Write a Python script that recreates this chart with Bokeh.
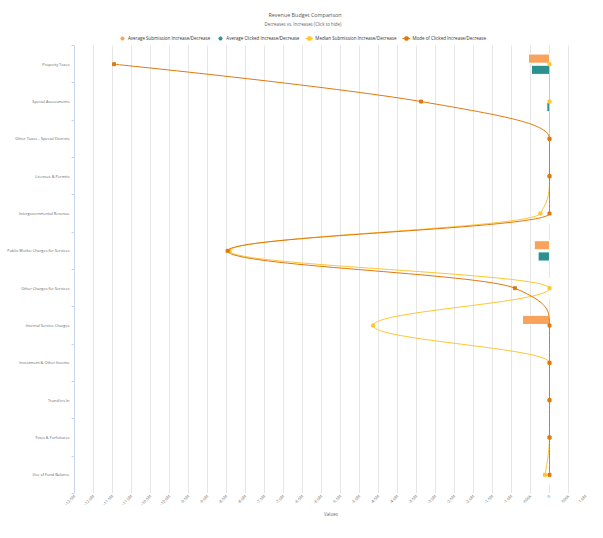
import math
from bokeh.plotting import figure
from bokeh.models import (Range1d, FixedTicker, Title, Legend, LegendItem,
                          ColumnDataSource, BoxAnnotation)
from bokeh.embed import file_html
from bokeh.resources import INLINE

categories = ["Property Taxes", "Special Assessments", "Other Taxes \u2013 Special Districts",
              "Licenses & Permits", "Intergovernmental Revenue",
              "Public Works: Charges for Services", "Other Charges for Services",
              "Internal Service Charges", "Investment & Other Income", "Transfers In",
              "Fines & Forfeitures", "Use of Fund Balance"]
avg_submission = [-553000, 0, 0, 0, 0, -400000, 0, -710000, 0, 0, 0, 0]
avg_clicked = [-476000, -70000, 0, 0, 0, -300000, -10000, 0, 0, 0, 0, 0]
median_submission = [0, 0, 0, 0, -240000, -8420000, 0, -4640000, 0, 0, 0, -120000]
mode_clicked = [-11460000, -3380000, 0, 0, 0, -8470000, -910000, 0, 0, 0, 0, 0]

x_ticks = [-12500000 + 500000 * i for i in range(28)]
def fmt(v):
    if v == 0:
        return "0"
    if abs(v) >= 1000000:
        return "%.1fM" % (v / 1e6)
    return "%dk" % (v / 1000)
x_tick_labels = {t: fmt(t) for t in x_ticks}

C_SUB = "#f7a35c"
C_CLK = "#2b908f"
C_MED = "#ffc533"
C_MODE = "#e0780e"
FONT = "Open Sans"

def spline(vals, smoothing=1.5):
    xs = list(range(len(vals)))
    ys = list(vals)
    n = len(xs)
    left = [None] * n
    right = [None] * n
    for i in range(n):
        if 0 < i < n - 1:
            px, py = xs[i], ys[i]
            lx, ly = xs[i - 1], ys[i - 1]
            nx, ny = xs[i + 1], ys[i + 1]
            d = smoothing + 1
            lcx = (smoothing * px + lx) / d
            lcy = (smoothing * py + ly) / d
            rcx = (smoothing * px + nx) / d
            rcy = (smoothing * py + ny) / d
            if rcx != lcx:
                corr = ((rcy - lcy) * (rcx - px)) / (rcx - lcx) + py - rcy
                lcy += corr
                rcy += corr
            if lcy > ly and lcy > py:
                lcy = max(ly, py); rcy = 2 * py - lcy
            elif lcy < ly and lcy < py:
                lcy = min(ly, py); rcy = 2 * py - lcy
            if rcy > ny and rcy > py:
                rcy = max(ny, py); lcy = 2 * py - rcy
            elif rcy < ny and rcy < py:
                rcy = min(ny, py); lcy = 2 * py - rcy
            left[i] = (lcx, lcy)
            right[i] = (rcx, rcy)
        else:
            left[i] = right[i] = (xs[i], ys[i])
    d = dict(x0=[], y0=[], x1=[], y1=[], cx0=[], cy0=[], cx1=[], cy1=[])
    for i in range(1, n):
        d["y0"].append(xs[i - 1]); d["x0"].append(ys[i - 1])
        d["y1"].append(xs[i]); d["x1"].append(ys[i])
        d["cy0"].append(right[i - 1][0]); d["cx0"].append(right[i - 1][1])
        d["cy1"].append(left[i][0]); d["cx1"].append(left[i][1])
    return ColumnDataSource(d)

idx = list(range(len(categories)))
n_cat = len(categories)
Y_TOP = -0.93   # extra band above first category that holds the legend
FRAME_H = 464

p = figure(frame_width=513, frame_height=FRAME_H, output_backend="svg", toolbar_location=None,
           x_range=Range1d(-12500000, 1000000), y_range=Range1d(n_cat - 0.5, Y_TOP),
           min_border_left=74, min_border_right=0, min_border_top=29, min_border_bottom=22)
p.outline_line_color = None
p.background_fill_color = "white"
p.border_fill_color = "white"

bar_src = ColumnDataSource(dict(y_sub=[i - 0.15 for i in idx], y_clk=[i + 0.15 for i in idx],
                                sub=avg_submission, clk=avg_clicked))
r_sub = p.hbar(y="y_sub", left=0, right="sub", height=0.245, source=bar_src,
               fill_color=C_SUB, line_color="white", line_width=1)
r_clk = p.hbar(y="y_clk", left=0, right="clk", height=0.245, source=bar_src,
               fill_color=C_CLK, line_color="white", line_width=1)
leg_sub = p.scatter(x="sub", y="y_sub", source=bar_src, size=0, marker="circle",
                    fill_color=C_SUB, line_color=C_SUB)
leg_clk = p.scatter(x="clk", y="y_clk", source=bar_src, size=0, marker="circle",
                    fill_color=C_CLK, line_color=C_CLK)

line_src = ColumnDataSource(dict(y=idx, med=median_submission, mode=mode_clicked))
r_med = p.bezier(x0="x0", y0="y0", x1="x1", y1="y1", cx0="cx0", cy0="cy0", cx1="cx1", cy1="cy1",
                 source=spline(median_submission), line_color=C_MED, line_width=1)
m_med = p.scatter(x="med", y="y", source=line_src, size=3, marker="square",
                  fill_color=C_MED, line_color=C_MED)
r_mode = p.bezier(x0="x0", y0="y0", x1="x1", y1="y1", cx0="cx0", cy0="cy0", cx1="cx1", cy1="cy1",
                  source=spline(mode_clicked), line_color=C_MODE, line_width=1)
m_mode = p.scatter(x="mode", y="y", source=line_src, size=3, marker="square",
                   fill_color=C_MODE, line_color=C_MODE)

# white band above the plot area (legend lives there)
p.add_layout(BoxAnnotation(top=Y_TOP, bottom=-0.5, fill_color="white", fill_alpha=1,
                           line_color=None, level="annotation"))

# axes
p.xaxis.ticker = FixedTicker(ticks=x_ticks)
p.xaxis.major_label_overrides = x_tick_labels
p.xaxis.major_label_orientation = math.pi / 4
p.xaxis.axis_line_color = None
p.xaxis.major_tick_line_color = None
p.xaxis.major_tick_out = 0
p.xaxis.major_tick_in = 0
p.xaxis.minor_tick_line_color = None
p.xaxis.major_label_text_font = FONT
p.xaxis.major_label_text_font_size = "4px"
p.xaxis.major_label_text_color = "#666666"
p.xaxis.major_label_standoff = 2
p.xaxis.axis_label = "Values"
p.xaxis.axis_label_text_font = FONT
p.xaxis.axis_label_text_font_size = "4.5px"
p.xaxis.axis_label_text_font_style = "normal"
p.xaxis.axis_label_text_color = "#666666"
p.xaxis.axis_label_standoff = 0

p.yaxis.ticker = FixedTicker(ticks=idx, minor_ticks=[i + 0.5 for i in range(-1, n_cat)])
p.yaxis.major_label_overrides = {i: c for i, c in enumerate(categories)}
p.yaxis.bounds = (-0.5, n_cat - 0.5)
p.yaxis.axis_line_color = "#ccd6eb"
p.yaxis.major_tick_line_color = None
p.yaxis.major_tick_out = 3
p.yaxis.major_tick_in = 0
p.yaxis.minor_tick_line_color = "#ccd6eb"
p.yaxis.minor_tick_out = 3
p.yaxis.minor_tick_in = 0
p.yaxis.major_label_text_font = FONT
p.yaxis.major_label_text_font_size = "3.9px"
p.yaxis.major_label_text_color = "#666666"
p.yaxis.major_label_standoff = 2

p.xgrid.grid_line_color = "#e6e6e6"
p.ygrid.grid_line_color = None

legend = Legend(items=[
    LegendItem(label="Average Submission Increase/Decrease", renderers=[leg_sub]),
    LegendItem(label="Average Clicked Increase/Decrease", renderers=[leg_clk]),
    LegendItem(label="Median Submission Increase/Decrease", renderers=[r_med, m_med]),
    LegendItem(label="Mode of Clicked Increase/Decrease", renderers=[r_mode, m_mode]),
], orientation="horizontal", location=(44, FRAME_H - 13), border_line_color=None,
    background_fill_color="white", background_fill_alpha=1,
    label_text_font=FONT, label_text_font_size="4.5px",
    label_text_color="#333333", glyph_width=8, glyph_height=8, label_height=8,
    label_standoff=2, spacing=6, padding=2, margin=0)
p.add_layout(legend, "center")
p.add_layout(Title(text="Decreases vs. Increases (Click to hide)", align="left", offset=190,
                   text_font=FONT, text_font_size="4.4px", text_font_style="normal",
                   text_color="#666666", standoff=5), "above")
p.add_layout(Title(text="Revenue Budget Comparison", align="left", offset=194,
                   text_font=FONT, text_font_size="5.4px", text_font_style="normal",
                   text_color="#555555", standoff=-4), "above")

open("out.html", "w").write(file_html(p, INLINE))
